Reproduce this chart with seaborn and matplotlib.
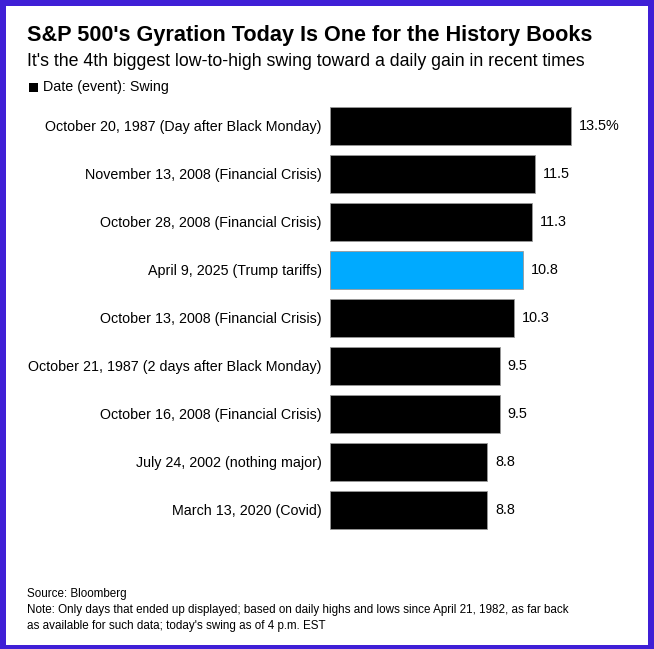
import matplotlib
matplotlib.use("Agg")
import matplotlib.pyplot as plt
import seaborn as sns
import pandas as pd
from matplotlib.patches import Rectangle

# === data ===
labels = [
    "October 20, 1987 (Day after Black Monday)",
    "November 13, 2008 (Financial Crisis)",
    "October 28, 2008 (Financial Crisis)",
    "April 9, 2025 (Trump tariffs)",
    "October 13, 2008 (Financial Crisis)",
    "October 21, 1987 (2 days after Black Monday)",
    "October 16, 2008 (Financial Crisis)",
    "July 24, 2002 (nothing major)",
    "March 13, 2020 (Covid)",
]
swing = [13.5, 11.5, 11.3, 10.8, 10.3, 9.5, 9.5, 8.8, 8.8]
value_labels = ["13.5%", "11.5", "11.3", "10.8", "10.3", "9.5", "9.5", "8.8", "8.8"]
highlight = "April 9, 2025 (Trump tariffs)"

df = pd.DataFrame({"label": labels, "swing": swing})
colors = ["#00aaff" if l == highlight else "black" for l in labels]

sns.set_style("white")
plt.rcParams["font.family"] = ["Liberation Sans", "DejaVu Sans"]
plt.rcParams["text.color"] = "black"
plt.rcParams["ytick.color"] = "black"
plt.rcParams["ytick.labelcolor"] = "black"

W, H = 654, 649
fig = plt.figure(figsize=(W / 100, H / 100), dpi=100)

def fx(px):
    return px / W

def fy(py):
    return 1 - py / H

# axes placed so the bars start at x=330
ax = fig.add_axes([fx(330), fy(534), fx(300), (534 - 102) / H])
sns.barplot(data=df, y="label", x="swing", hue="label", palette=colors, saturation=1,
            legend=False, width=0.81, edgecolor="#999999", linewidth=0.6, ax=ax)
ax.set_xlim(0, 300 / 17.85)
ax.set_ylim(8.5, -0.5)
ax.set_xlabel("")
ax.set_ylabel("")
ax.set_xticks([])
ax.tick_params(axis="y", length=0, pad=6, labelsize=10.3, labelcolor="black")
for s in ax.spines.values():
    s.set_visible(False)
ax.patch.set_alpha(0)

for i, (v, t) in enumerate(zip(swing, value_labels)):
    ax.annotate(t, (v, i), xytext=(8, 0), textcoords="offset pixels",
                va="center", ha="left", fontsize=10.4, color="black")

# titles
fig.text(fx(27), fy(35), "S&P 500's Gyration Today Is One for the History Books",
         fontsize=15.6, fontweight="bold", va="center", ha="left", color="black")
fig.text(fx(27), fy(61), "It's the 4th biggest low-to-high swing toward a daily gain in recent times",
         fontsize=12.75, va="center", ha="left", color="black")

# legend key
fig.patches.append(Rectangle((fx(29), fy(92)), fx(9), 9 / H, transform=fig.transFigure,
                             facecolor="black", edgecolor="none"))
fig.text(fx(43), fy(87), "Date (event): Swing", fontsize=10.3, va="center", ha="left")

# footer
fig.text(fx(27), fy(594), "Source: Bloomberg", fontsize=8.4, va="center", ha="left")
fig.text(fx(27), fy(610),
         "Note: Only days that ended up displayed; based on daily highs and lows since April 21, 1982, as far back",
         fontsize=8.4, va="center", ha="left")
fig.text(fx(27), fy(626), "as available for such data; today's swing as of 4 p.m. EST",
         fontsize=8.4, va="center", ha="left")

# purple frame
border = "#3f1fd6"
fig.patches.append(Rectangle((0, 0), fx(6), 1, transform=fig.transFigure, facecolor=border, edgecolor="none"))
fig.patches.append(Rectangle((fx(648), 0), fx(6), 1, transform=fig.transFigure, facecolor=border, edgecolor="none"))
fig.patches.append(Rectangle((0, fy(6)), 1, 6 / H, transform=fig.transFigure, facecolor=border, edgecolor="none"))
fig.patches.append(Rectangle((0, 0), 1, 4 / H, transform=fig.transFigure, facecolor=border, edgecolor="none"))

fig.savefig("out.png", dpi=100)
